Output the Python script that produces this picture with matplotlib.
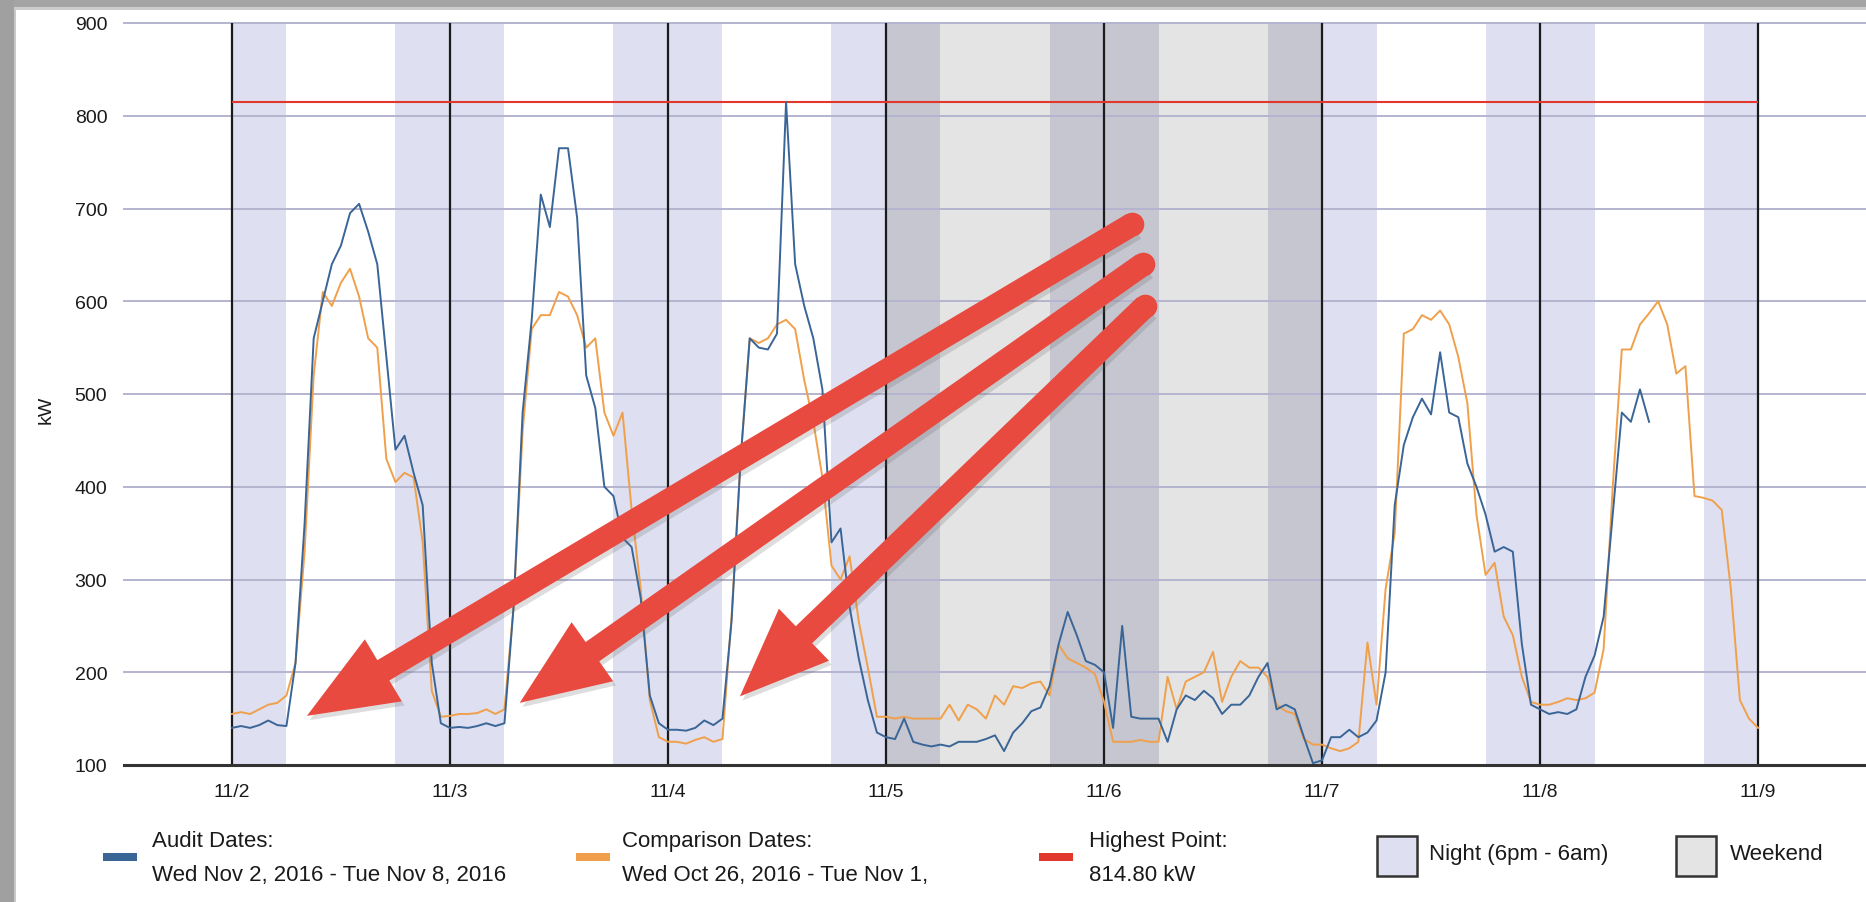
import pandas as pd
import matplotlib
matplotlib.use('Agg')
import matplotlib.pyplot as plt
import matplotlib.dates as mdates
import matplotlib.patheffects as pe
from matplotlib.patches import Rectangle

plt.rcParams['font.family'] = ['Liberation Sans', 'DejaVu Sans']

# hourly kW readings (hour 0..23) for each day of the audit week
audit_nov2 = [140, 142, 140, 143, 148, 143, 142, 210, 360, 560, 600, 640, 660, 695, 705, 675, 640, 540, 440, 455, 415, 380, 210, 145]
audit_nov3 = [140, 141, 140, 142, 145, 142, 145, 270, 480, 580, 715, 680, 765, 765, 690, 520, 485, 400, 390, 345, 335, 280, 175, 145]
audit_nov4 = [138, 138, 137, 140, 148, 143, 150, 255, 430, 560, 550, 548, 565, 814.8, 640, 595, 560, 505, 340, 355, 270, 215, 170, 135]
audit_nov5 = [130, 128, 150, 125, 122, 120, 122, 120, 125, 125, 125, 128, 132, 115, 135, 145, 158, 162, 185, 230, 265, 240, 212, 208]
audit_nov6 = [200, 140, 250, 152, 150, 150, 150, 125, 160, 175, 170, 180, 172, 155, 165, 165, 175, 195, 210, 160, 165, 160, 130, 102]
audit_nov7 = [105, 130, 130, 138, 130, 135, 148, 200, 380, 445, 475, 495, 478, 545, 480, 475, 425, 400, 370, 330, 335, 330, 230, 165]
audit_nov8 = [160, 155, 157, 155, 160, 195, 218, 260, 370, 480, 470, 505, 470]

# comparison week, same hours
comp_nov2 = [155, 157, 155, 160, 165, 167, 175, 210, 330, 520, 610, 595, 620, 635, 605, 560, 550, 430, 405, 415, 410, 340, 180, 152]
comp_nov3 = [153, 155, 155, 156, 160, 155, 160, 270, 460, 570, 585, 585, 610, 605, 585, 550, 560, 480, 455, 480, 375, 290, 170, 130]
comp_nov4 = [125, 125, 123, 127, 130, 125, 128, 260, 430, 560, 555, 560, 575, 580, 570, 515, 470, 410, 315, 300, 325, 255, 205, 152]
comp_nov5 = [152, 150, 152, 150, 150, 150, 150, 165, 148, 165, 160, 150, 175, 165, 185, 183, 188, 190, 175, 230, 215, 210, 205, 198]
comp_nov6 = [168, 125, 125, 125, 127, 125, 125, 195, 160, 190, 195, 200, 222, 168, 195, 212, 205, 205, 195, 165, 158, 155, 128, 122]
comp_nov7 = [122, 118, 115, 118, 125, 232, 165, 290, 350, 565, 570, 585, 580, 590, 575, 540, 490, 370, 305, 318, 260, 240, 195, 168]
comp_nov8 = [165, 165, 168, 172, 170, 172, 178, 225, 400, 548, 548, 575, 587, 600, 575, 522, 530, 390, 388, 385, 375, 290, 170, 150, 140]

audit_kw = audit_nov2 + audit_nov3 + audit_nov4 + audit_nov5 + audit_nov6 + audit_nov7 + audit_nov8
comp_kw = comp_nov2 + comp_nov3 + comp_nov4 + comp_nov5 + comp_nov6 + comp_nov7 + comp_nov8

peak_kw = 814.80
day_labels = ['11/2', '11/3', '11/4', '11/5', '11/6', '11/7', '11/8', '11/9']
weekend_days = [3, 4]  # 11/5 and 11/6
y_ticks = [100, 200, 300, 400, 500, 600, 700, 800, 900]

start = pd.Timestamp('2016-11-02')
audit_time = pd.date_range(start, periods=len(audit_kw), freq='h')
comp_time = pd.date_range(start, periods=len(comp_kw), freq='h')
x0 = mdates.date2num(start)

W, H = 1866, 903
fig = plt.figure(figsize=(W / 100, H / 100), dpi=100)
ax = fig.add_axes([124 / W, 1 - 766 / H, 1 - 124 / W, (766 - 24) / H])

night_col = '#dedff0'
wkend_col = '#e4e4e4'
wk_night_col = '#c5c6d0'

# night (6pm - 6am) and weekend shading
for d in range(len(day_labels) - 1):
    is_wk = d in weekend_days
    nc = wk_night_col if is_wk else night_col
    ax.axvspan(x0 + d, x0 + d + 0.25, color=nc, lw=0, zorder=0.5)
    ax.axvspan(x0 + d + 0.75, x0 + d + 1, color=nc, lw=0, zorder=0.5)
    if is_wk:
        ax.axvspan(x0 + d + 0.25, x0 + d + 0.75, color=wkend_col, lw=0, zorder=0.5)

for yv in y_ticks[1:]:
    ax.axhline(yv, color='#b4b4d0', lw=1.4, zorder=1, clip_on=False)

for d in range(len(day_labels)):
    ax.axvline(x0 + d, color='#1a1a1a', lw=1.6, zorder=2)

ax.hlines(peak_kw, x0, x0 + 7, color='#e2372c', lw=1.5, zorder=2.5)

ax.plot(comp_time, comp_kw, color='#f0a04b', lw=1.4, zorder=3)
ax.plot(audit_time, audit_kw, color='#3a6597', lw=1.4, zorder=3.2)

# callout arrows
arrow_tails = [(4.13, 683), (4.18, 640), (4.19, 595)]
arrow_tips = [(0.344, 153), (1.32, 167), (2.33, 174)]
shadow = [pe.SimplePatchShadow(offset=(2, -3), shadow_rgbFace='#666666', alpha=0.22), pe.Normal()]
for (tx, ty), (hx, hy) in zip(arrow_tails, arrow_tips):
    ax.annotate('', xy=(x0 + hx, hy), xytext=(x0 + tx, ty),
                arrowprops=dict(arrowstyle='simple,head_length=64,head_width=52,tail_width=17',
                                mutation_scale=1, color='#e84a40', lw=0,
                                shrinkA=0, shrinkB=0, path_effects=shadow),
                zorder=5)
    ax.plot(x0 + tx, ty, 'o', ms=17, color='#e84a40', mec='none', zorder=5.1)

ax.set_xlim(x0 - 0.495, x0 + 7.495)
ax.set_ylim(100, 900)
ax.set_xticks([x0 + i for i in range(len(day_labels))])
ax.set_xticklabels(day_labels)
ax.set_yticks(y_ticks)
ax.tick_params(axis='both', length=0, labelsize=14, colors='#1a1a1a')
ax.tick_params(axis='x', pad=13)
ax.tick_params(axis='y', pad=12)
for s in ['top', 'right', 'left']:
    ax.spines[s].set_visible(False)
ax.spines['bottom'].set_color('#333333')
ax.spines['bottom'].set_linewidth(2.2)
ax.spines['bottom'].set_zorder(4)
ax.set_ylabel('kW', fontsize=14, color='#1a1a1a')
ax.yaxis.set_label_coords(-0.040, 0.48)


def fx(px):
    return px / W


def fy(py):
    return 1 - py / H


# legend drawn below the plot
lines_legend = [
    ('#3a6597', 103, 152, 'Audit Dates:', 'Wed Nov 2, 2016 - Tue Nov 8, 2016'),
    ('#f0a04b', 576, 622, 'Comparison Dates:', 'Wed Oct 26, 2016 - Tue Nov 1,'),
    ('#e2372c', 1039, 1089, 'Highest Point:', '%.2f kW' % peak_kw),
]
for col, sx, tx, t1, t2 in lines_legend:
    fig.patches.append(Rectangle((fx(sx), fy(862)), 34 / W, 8 / H, transform=fig.transFigure,
                                 color=col, lw=0))
    fig.text(fx(tx), fy(842), t1, fontsize=16, va='center', ha='left', color='#1a1a1a')
    fig.text(fx(tx), fy(876), t2, fontsize=16, va='center', ha='left', color='#1a1a1a')

box_legend = [(night_col, 1377, 1429, 'Night (6pm - 6am)'), (wkend_col, 1676, 1730, 'Weekend')]
for col, bx, tx, label in box_legend:
    fig.patches.append(Rectangle((fx(bx), fy(877)), 40 / W, 40 / H, transform=fig.transFigure,
                                 facecolor=col, edgecolor='#333333', lw=1.8))
    fig.text(fx(tx), fy(855), label, fontsize=16, va='center', ha='left', color='#1a1a1a')

# page shadow at the top and left edges
fig.patches.append(Rectangle((0, fy(8)), 1, 8 / H, transform=fig.transFigure, color='#a4a4a4', lw=0, zorder=10))
fig.patches.append(Rectangle((0, fy(11)), 1, 3 / H, transform=fig.transFigure, color='#cccccc', lw=0, zorder=10))
fig.patches.append(Rectangle((0, 0), 14 / W, 1, transform=fig.transFigure, color='#a0a0a0', lw=0, zorder=10))
fig.patches.append(Rectangle((14 / W, 0), 2 / W, fy(11), transform=fig.transFigure, color='#c8c8c8', lw=0, zorder=10))

fig.savefig('out.png', dpi=100)
